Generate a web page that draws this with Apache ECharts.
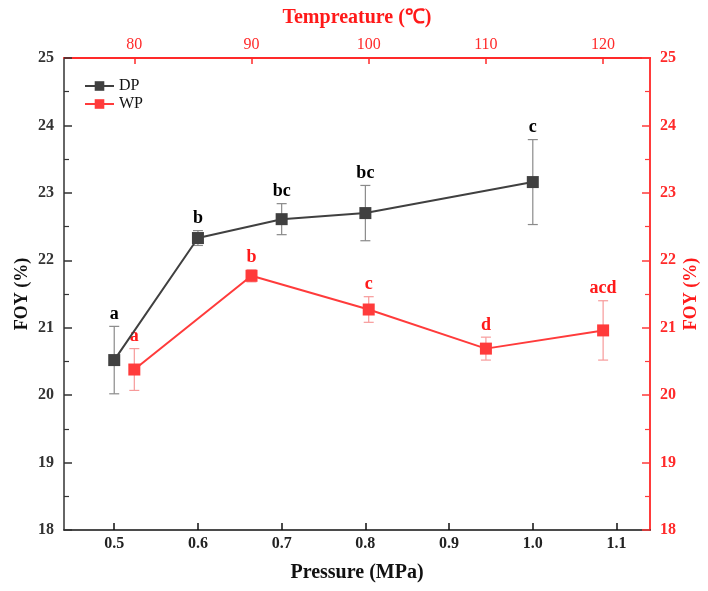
<!DOCTYPE html>
<html><head><meta charset="utf-8">
<script src="https://cdn.jsdelivr.net/npm/echarts@6/dist/echarts.min.js"></script>
<style>html,body{margin:0;padding:0;background:#fff}#c{width:708px;height:591px}</style>
</head><body><div id="c"></div>
<script>
var pressure = [0.5, 0.6, 0.7, 0.8, 1.0];
var dpMean = [20.52, 22.33, 22.61, 22.70, 23.16];
var dpErr = [0.50, 0.11, 0.23, 0.41, 0.63];
var dpLetters = ['a', 'b', 'bc', 'bc', 'c'];
var temperature = [80, 90, 100, 110, 120];
var wpMean = [20.38, 21.77, 21.27, 20.69, 20.96];
var wpErr = [0.31, 0.09, 0.19, 0.17, 0.44];
var wpLetters = ['a', 'b', 'c', 'd', 'acd'];
var pressureTicks = [0.5, 0.6, 0.7, 0.8, 0.9, 1.0, 1.1];
var tempTicks = [80, 90, 100, 110, 120];

var FONT = '"Liberation Serif", "Times New Roman", serif';
var DP_C = '#404040', WP_C = '#ff3b3b';
var DP_ERR = '#8a8a8a', WP_ERR = '#f79a9a';

function errData(xs, m, e) { return xs.map(function (x, i) { return [x, m[i], e[i], i]; }); }
function errRender(letters, barColor, textColor) {
  return function (params, api) {
    var x = api.value(0), m = api.value(1), e = api.value(2), i = api.value(3);
    var t = api.coord([x, m + e]), b = api.coord([x, m - e]);
    var hw = 5;
    var st = { stroke: barColor, lineWidth: 1.2 };
    return { type: 'group', children: [
      { type: 'line', shape: { x1: t[0], y1: t[1], x2: b[0], y2: b[1] }, style: st },
      { type: 'line', shape: { x1: t[0] - hw, y1: t[1], x2: t[0] + hw, y2: t[1] }, style: st },
      { type: 'line', shape: { x1: b[0] - hw, y1: b[1], x2: b[0] + hw, y2: b[1] }, style: st },
      { type: 'text', x: t[0], y: t[1] - 3, style: { text: letters[i], align: 'center', verticalAlign: 'bottom', textAlign: 'center', textVerticalAlign: 'bottom', font: 'bold 18px ' + FONT, fill: textColor } }
    ] };
  };
}

var chart = echarts.init(document.getElementById('c'), null, { renderer: 'canvas' });
chart.setOption({
  animation: false,
  backgroundColor: '#fff',
  grid: { left: 64, right: 58, top: 58, bottom: 61, containLabel: false, outerBoundsMode: 'none' },
  legend: {
    orient: 'vertical', left: 79, top: 73, itemWidth: 29, itemHeight: 12, itemGap: 2,
    textStyle: { fontFamily: FONT, fontSize: 16, color: '#111' },
    data: ['DP', 'WP']
  },
  xAxis: [
    { type: 'value', position: 'bottom', min: 0.44, max: 1.14,
      name: 'Pressure (MPa)', nameLocation: 'middle', nameGap: 33, nameMoveOverlap: false,
      nameTextStyle: { fontFamily: FONT, fontWeight: 'bold', fontSize: 20, color: '#111' },
      axisLine: { show: true, onZero: false, lineStyle: { color: '#111', width: 1.5 } },
      axisTick: { show: true, inside: true, length: 7, customValues: pressureTicks, lineStyle: { color: '#111', width: 1.5 } },
      axisLabel: { customValues: pressureTicks, margin: 6, fontFamily: FONT, fontWeight: 'bold', fontSize: 16, color: '#222',
        formatter: function (v) { return Number(v).toFixed(1); } },
      splitLine: { show: false } },
    { type: 'value', position: 'top', min: 74, max: 124,
      name: 'Tempreature (\u2103)', nameLocation: 'middle', nameGap: 30, nameMoveOverlap: false,
      nameTextStyle: { fontFamily: FONT, fontWeight: 'bold', fontSize: 20, color: '#ff1a1a' },
      axisLine: { show: true, onZero: false, lineStyle: { color: '#ff2a2a', width: 2 } },
      axisTick: { show: true, inside: true, length: 6, customValues: tempTicks, lineStyle: { color: '#ff2a2a', width: 1.5 } },
      axisLabel: { customValues: tempTicks, margin: 5, fontFamily: FONT, fontSize: 16, color: '#ff2a2a' },
      splitLine: { show: false } }
  ],
  yAxis: [
    { type: 'value', position: 'left', min: 18, max: 25, interval: 1,
      name: 'FOY (%)', nameLocation: 'middle', nameGap: 33, nameRotate: 90, nameMoveOverlap: false,
      nameTextStyle: { fontFamily: FONT, fontWeight: 'bold', fontSize: 18, color: '#111' },
      axisLine: { show: true, onZero: false, lineStyle: { color: '#333', width: 1.5 } },
      axisTick: { show: true, inside: true, length: 8, lineStyle: { color: '#333', width: 1.5 } },
      minorTick: { show: true, splitNumber: 2, length: 5, lineStyle: { color: '#333', width: 1.2 } },
      axisLabel: { margin: 10, fontFamily: FONT, fontWeight: 'bold', fontSize: 16, color: '#333' },
      splitLine: { show: false } },
    { type: 'value', position: 'right', min: 18, max: 25, interval: 1,
      name: 'FOY (%)', nameLocation: 'middle', nameGap: 32, nameRotate: 90, nameMoveOverlap: false,
      nameTextStyle: { fontFamily: FONT, fontWeight: 'bold', fontSize: 18, color: '#ff1a1a' },
      axisLine: { show: true, onZero: false, lineStyle: { color: '#ff3b3b', width: 2 } },
      axisTick: { show: true, inside: true, length: 8, lineStyle: { color: '#ff3b3b', width: 1.5 } },
      minorTick: { show: true, splitNumber: 2, length: 5, lineStyle: { color: '#ff3b3b', width: 1.2 } },
      axisLabel: { margin: 10, fontFamily: FONT, fontWeight: 'bold', fontSize: 16, color: '#ff2a2a' },
      splitLine: { show: false } }
  ],
  series: [
    { type: 'custom', name: 'DPerr', xAxisIndex: 0, yAxisIndex: 0, z: 1,
      renderItem: errRender(dpLetters, DP_ERR, '#000'), data: errData(pressure, dpMean, dpErr) },
    { type: 'custom', name: 'WPerr', xAxisIndex: 1, yAxisIndex: 1, z: 1,
      renderItem: errRender(wpLetters, WP_ERR, '#ff1a1a'), data: errData(temperature, wpMean, wpErr) },
    { type: 'line', name: 'DP', xAxisIndex: 0, yAxisIndex: 0, z: 3,
      data: pressure.map(function (x, i) { return [x, dpMean[i]]; }),
      symbol: 'rect', symbolSize: 12, color: DP_C,
      lineStyle: { color: DP_C, width: 2 }, itemStyle: { color: DP_C } },
    { type: 'line', name: 'WP', xAxisIndex: 1, yAxisIndex: 1, z: 3,
      data: temperature.map(function (x, i) { return [x, wpMean[i]]; }),
      symbol: 'rect', symbolSize: 12, color: WP_C,
      lineStyle: { color: WP_C, width: 2 }, itemStyle: { color: WP_C } }
  ]
});
</script></body></html>
